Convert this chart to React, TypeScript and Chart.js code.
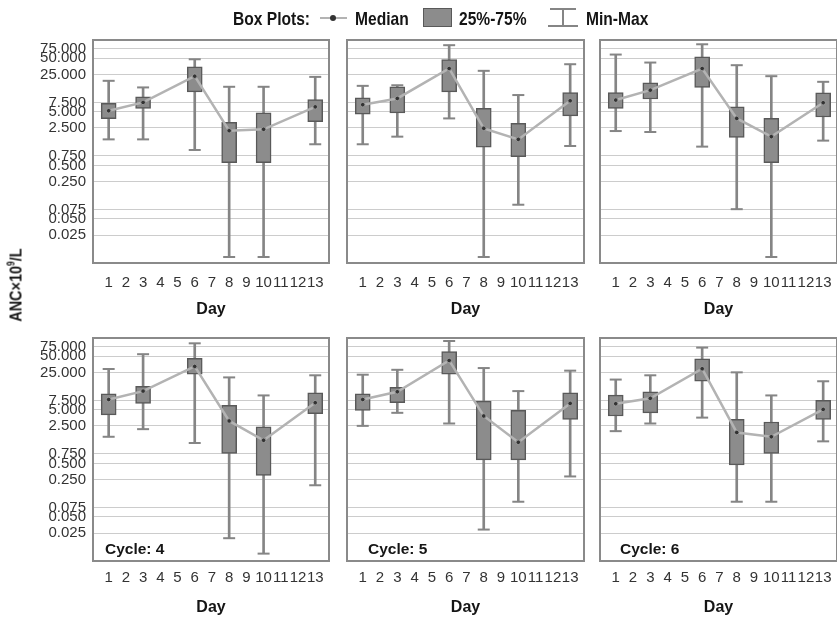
import React, { useEffect, useRef } from 'react';
import { Chart, registerables } from 'chart.js';

Chart.register(...registerables);

// ---------- data ----------
const DAY_TICKS = [1, 2, 3, 4, 5, 6, 7, 8, 9, 10, 11, 12, 13];
const DAYS = [1, 3, 6, 8, 10, 13];
const CYCLES = [1, 2, 3, 4, 5, 6];
const Y_TICKS = [0.025, 0.05, 0.075, 0.25, 0.5, 0.75, 2.5, 5, 7.5, 25, 50, 75];

// one row per cycle, one value per day in DAYS
const MINS = [
  [1.53, 1.53, 0.97, 0.0097, 0.0097, 1.24],
  [1.24, 1.72, 3.77, 0.0097, 0.092, 1.15],
  [2.19, 2.1, 1.12, 0.076, 0.0097, 1.45],
  [1.57, 2.18, 1.2, 0.02, 0.0103, 0.195],
  [2.51, 4.4, 2.78, 0.029, 0.096, 0.285],
  [2.0, 2.78, 3.58, 0.096, 0.096, 1.29],
];
const Q1S = [
  [3.72, 5.8, 11.8, 0.56, 0.56, 3.28],
  [4.54, 4.8, 11.8, 1.09, 0.73, 4.2],
  [5.8, 8.7, 14.3, 1.66, 0.56, 4.0],
  [4.03, 6.6, 23.3, 0.77, 0.297, 4.24],
  [4.9, 6.8, 23.3, 0.58, 0.58, 3.33],
  [3.84, 4.4, 17.1, 0.47, 0.77, 3.33],
];
const MEDS = [
  [5.24, 7.5, 23.2, 2.22, 2.36, 6.2],
  [6.8, 8.9, 32.3, 2.46, 1.53, 8.05],
  [8.3, 12.7, 32.3, 3.77, 1.72, 7.4],
  [7.8, 11.2, 32.4, 3.1, 1.35, 6.8],
  [7.8, 10.9, 41.9, 3.84, 1.24, 6.6],
  [6.5, 8.2, 29.3, 1.89, 1.57, 5.1],
];
const Q3S = [
  [7.18, 9.56, 34.7, 3.18, 4.8, 8.5],
  [9.16, 14.7, 47.5, 5.8, 3.05, 11.5],
  [11.5, 17.4, 53.2, 6.2, 3.77, 11.3],
  [9.96, 13.8, 46.1, 6.05, 2.4, 10.4],
  [9.96, 13.2, 61.3, 7.3, 4.9, 10.4],
  [9.4, 10.9, 45, 3.33, 2.97, 7.5],
];
const MAXS = [
  [19, 14.3, 48, 14.7, 14.7, 22.5],
  [15.3, 15.7, 88, 29.2, 10.3, 38.8],
  [58.8, 41.7, 91.5, 37.2, 23.2, 18.2],
  [29, 54.8, 87.5, 20.2, 9.3, 22.1],
  [22.7, 28, 96.7, 30.2, 11.2, 27],
  [18.4, 22.1, 72.8, 25.1, 9.3, 17.1],
];

// ---------- fonts ----------
function fontAvailable(name: string): boolean {
  try {
    const c = document.createElement('canvas').getContext('2d');
    if (!c) return false;
    const s = 'abcdefghijklmnop0123456789';
    c.font = '30px monospace';
    const w1 = c.measureText(s).width;
    c.font = `30px "${name}", monospace`;
    const w2 = c.measureText(s).width;
    return Math.abs(w1 - w2) > 0.5;
  } catch (e) {
    return false;
  }
}
const HAS_NARROW = fontAvailable('Liberation Sans Narrow');
const FAMILY = HAS_NARROW
  ? '"Liberation Sans Narrow", "Liberation Sans", Arial, sans-serif'
  : '"Liberation Sans", Arial, sans-serif';
const TICK_SIZE = HAS_NARROW ? 17 : 15;
const TITLE_SIZE = HAS_NARROW ? 18 : 16;
const CYCLE_SIZE = HAS_NARROW ? 18 : 15.5;

// ---------- layout ----------
const COLS = [
  { l: 93, r: 333, cycleDx: 12 },
  { l: 347, r: 588, cycleDx: 21 },
  { l: 600, r: 841, cycleDx: 20 },
];
const ROWS = [
  { t: 40, b: 263, tickPad: 11 },
  { t: 338, b: 561, tickPad: 8 },
];
const Y_AXIS_W = 90;
const X_AXIS_H = 56;
const PAD_T = 24;
const PAD_R = 4;

const BOX_FILL = '#8c8c8c';
const BOX_EDGE = '#595959';
const WHISKER = '#858585';
const MED_LINE = '#b3b3b3';

function Panel({ idx }: { idx: number }) {
  const ref = useRef<HTMLCanvasElement | null>(null);
  const row = Math.floor(idx / 3);
  const col = idx % 3;
  const R = ROWS[row];
  const C = COLS[col];
  const cw = C.r - C.l + Y_AXIS_W + PAD_R;
  const ch = R.b - R.t + PAD_T + X_AXIS_H;

  useEffect(() => {
    if (!ref.current) return;
    const c = idx;
    const whiskers = DAYS.map((d, i) => ({ x: d, y: [MINS[c][i], MAXS[c][i]] }));
    const boxes = DAYS.map((d, i) => ({ x: d, y: [Q1S[c][i], Q3S[c][i]] }));
    const caps = DAYS.flatMap((d, i) => [
      { x: d, y: MINS[c][i] },
      { x: d, y: MAXS[c][i] },
    ]);
    const meds = DAYS.map((d, i) => ({ x: d, y: MEDS[c][i] }));
    const label = row === 1 ? `Cycle: ${CYCLES[c]}` : '';

    const framePlugin = {
      id: 'frameAndLabel',
      afterDraw(chart: any) {
        const { ctx, chartArea: a } = chart;
        ctx.save();
        ctx.strokeStyle = '#8a8a8a';
        ctx.lineWidth = 2;
        ctx.strokeRect(a.left, a.top, a.right - a.left, a.bottom - a.top);
        if (label) {
          ctx.fillStyle = '#151515';
          ctx.font = `bold ${CYCLE_SIZE}px ${FAMILY}`;
          ctx.textBaseline = 'middle';
          ctx.textAlign = 'left';
          ctx.fillText(label, a.left + C.cycleDx, a.bottom - 11);
        }
        ctx.restore();
      },
    };

    const chart = new Chart(ref.current, {
      type: 'bar',
      data: {
        datasets: [
          {
            type: 'line',
            data: meds,
            borderColor: MED_LINE,
            borderWidth: 2.5,
            pointRadius: 2.3,
            pointBackgroundColor: '#333',
            pointBorderColor: '#999',
            pointBorderWidth: 1,
            tension: 0,
            order: 0,
          } as any,
          {
            type: 'bar',
            data: boxes,
            backgroundColor: BOX_FILL,
            borderColor: BOX_EDGE,
            borderWidth: 1.5,
            borderSkipped: false,
            barThickness: 15,
            grouped: false,
            order: 1,
          } as any,
          {
            type: 'scatter',
            data: caps,
            pointStyle: 'line',
            pointRadius: 6,
            pointBorderColor: WHISKER,
            borderColor: WHISKER,
            pointBorderWidth: 2,
            borderWidth: 2,
            order: 2,
          } as any,
          {
            type: 'bar',
            data: whiskers,
            backgroundColor: WHISKER,
            borderWidth: 0,
            barThickness: 2,
            grouped: false,
            order: 3,
          } as any,
        ],
      },
      options: {
        responsive: false,
        maintainAspectRatio: false,
        animation: false,
        devicePixelRatio: 1,
        layout: { padding: { left: 0, top: PAD_T, right: PAD_R, bottom: 0 } },
        plugins: { legend: { display: false }, tooltip: { enabled: false } },
        events: [],
        scales: {
          x: {
            type: 'linear',
            min: 0.09,
            max: 13.8,
            offset: false,
            grid: { display: false, drawTicks: false },
            border: { display: false },
            afterBuildTicks: (s: any) => {
              s.ticks = DAY_TICKS.map((v) => ({ value: v }));
            },
            afterFit: (s: any) => {
              s.height = X_AXIS_H;
            },
            ticks: {
              autoSkip: false,
              maxRotation: 0,
              minRotation: 0,
              padding: R.tickPad,
              color: '#333',
              font: { family: FAMILY, size: TICK_SIZE },
              callback: (v: any) => String(v),
            },
            title: {
              display: true,
              text: 'Day',
              color: '#151515',
              font: { family: FAMILY, size: TITLE_SIZE, weight: 'bold' },
              padding: { top: 0, bottom: 0 },
            },
          },
          y: {
            type: 'logarithmic',
            min: 0.0075,
            max: 110,
            grid: { color: '#cccccc', lineWidth: 1, drawTicks: false },
            border: { display: false },
            afterBuildTicks: (s: any) => {
              s.ticks = Y_TICKS.map((v) => ({ value: v }));
            },
            afterFit: (s: any) => {
              s.width = Y_AXIS_W;
            },
            ticks: {
              display: col === 0,
              autoSkip: false,
              padding: 7,
              color: '#333',
              font: { family: FAMILY, size: TICK_SIZE },
              callback: (v: any) => Number(v).toFixed(3),
            },
          },
        },
      } as any,
      plugins: [framePlugin],
    });
    return () => chart.destroy();
  }, [idx]);

  return (
    <canvas
      ref={ref}
      width={cw}
      height={ch}
      style={{
        position: 'absolute',
        left: C.l - Y_AXIS_W,
        top: R.t - PAD_T,
        width: cw,
        height: ch,
      }}
    />
  );
}

function Txt({ left, cy, size, children }: { left: number; cy: number; size: number; children: any }) {
  return (
    <div
      style={{
        position: 'absolute',
        left,
        top: cy,
        transform: HAS_NARROW ? 'translateY(-50%)' : 'translateY(-50%) scaleX(0.82)',
        transformOrigin: 'left center',
        fontFamily: FAMILY,
        fontWeight: 'bold',
        fontSize: size,
        lineHeight: 1,
        color: '#151515',
        whiteSpace: 'nowrap',
      }}
    >
      {children}
    </div>
  );
}

export default function App() {
  const abs = (s: any) => ({ position: 'absolute', ...s } as any);
  return (
    <div
      style={{
        position: 'fixed',
        left: 0,
        top: 0,
        width: 837,
        height: 618,
        overflow: 'hidden',
        background: '#ffffff',
      }}
    >
      {CYCLES.map((_, i) => (
        <Panel key={i} idx={i} />
      ))}

      {/* legend */}
      <Txt left={233} cy={18} size={19}>Box Plots:</Txt>
      <div style={abs({ left: 320, top: 17, width: 27, height: 2, background: MED_LINE })} />
      <div style={abs({ left: 330, top: 15, width: 6, height: 6, borderRadius: '50%', background: '#333' })} />
      <Txt left={355} cy={18} size={19}>Median</Txt>
      <div
        style={abs({
          left: 423,
          top: 8,
          width: 29,
          height: 19,
          background: BOX_FILL,
          border: `1.5px solid ${BOX_EDGE}`,
          boxSizing: 'border-box',
        })}
      />
      <Txt left={459} cy={18} size={19}>25%-75%</Txt>
      <div style={abs({ left: 550, top: 8, width: 26, height: 2, background: WHISKER })} />
      <div style={abs({ left: 548, top: 25, width: 30, height: 2, background: WHISKER })} />
      <div style={abs({ left: 562, top: 8, width: 2, height: 18, background: WHISKER })} />
      <Txt left={586} cy={18} size={19}>Min-Max</Txt>

      {/* y-axis title */}
      <div
        style={abs({
          left: 16,
          top: 285,
          transform: `translate(-50%, -50%) rotate(-90deg)${HAS_NARROW ? '' : ' scaleX(0.85)'}`,
          fontFamily: FAMILY,
          fontWeight: 'bold',
          fontSize: 17,
          lineHeight: 1,
          color: '#151515',
          whiteSpace: 'nowrap',
        })}
      >
        ANC×10<sup style={{ fontSize: 10, verticalAlign: 'super', lineHeight: 0 }}>9</sup>/L
      </div>
    </div>
  );
}
